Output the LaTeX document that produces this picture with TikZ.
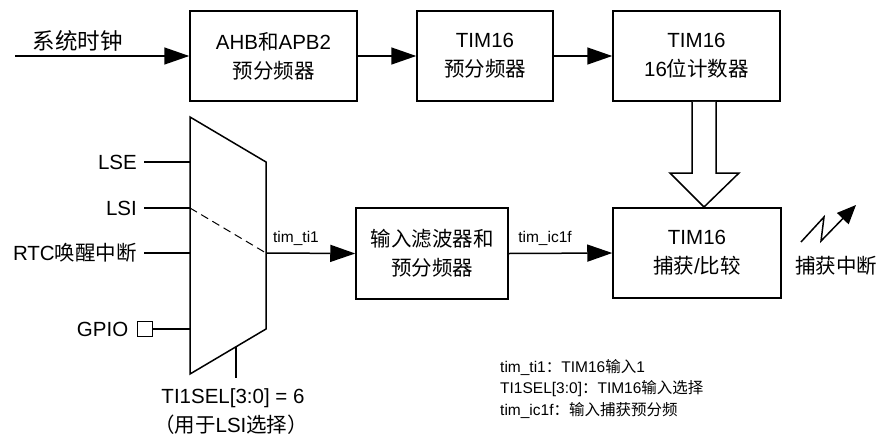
\documentclass[tikz,border=0pt]{standalone}
\usepackage{fontspec}
\setmainfont{Liberation Sans}
\newfontfamily\cjk{Noto Sans CJK SC}
\usetikzlibrary{arrows.meta}
\tikzset{
  ln/.style={line width=1.5pt},
  arr/.style={ln,-{Triangle[length=25pt,width=17pt]}},
  blk/.style={draw,line width=1.5pt,rectangle,inner sep=0pt,align=center,
    font=\fontsize{20.5}{29}\selectfont},
  big/.style={font=\fontsize{20.5}{29}\selectfont,inner sep=0pt},
  small/.style={font=\fontsize{15.5}{21.5}\selectfont,inner sep=0pt},
  pin/.style={big,inner xsep=7pt,anchor=east},
}
\begin{document}
\begin{tikzpicture}[x=1pt,y=-1pt]
\useasboundingbox (0,0) rectangle (881,437);
% top row
\node[blk,minimum width=167pt,minimum height=90pt] (ahb) at (273.5,56) {AHB{\cjk 和}APB2\\{\cjk 预分频器}};
\node[blk,minimum width=136pt,minimum height=90pt] (tpre) at (485,56) {TIM16\\{\cjk 预分频器}};
\node[blk,minimum width=167pt,minimum height=90pt] (cnt) at (696.5,56) {TIM16\\16{\cjk 位计数器}};
\coordinate (clkin) at (15,56);
\node[big,font=\fontsize{22.5}{29}\selectfont] (clklbl) at (77.5,41) {\cjk 系统时钟};
\draw[arr] (clkin) -- (ahb.west);
\draw[arr] (ahb.east) -- (tpre.west);
\draw[arr] (tpre.east) -- (cnt.west);
% middle row
\node[blk,minimum width=152pt,minimum height=91pt] (filt) at (432,253.5) {{\cjk 输入滤波器和}\\{\cjk 预分频器}};
\node[blk,minimum width=168pt,minimum height=90pt] (cap) at (697,253) {TIM16\\{\cjk 捕获}/{\cjk 比较}};
% hollow arrow
\draw[ln,fill=white] (cnt.south -| 692,0) -- (692,173) -- (670,173) -- (704,207)
  -- (739,173) -- (716,173) -- (cnt.south -| 716,0);
% mux
\coordinate (mtl) at (190,117);
\coordinate (mtr) at (266,162);
\coordinate (mbr) at (266,329);
\coordinate (mbl) at (190,374);
\draw[ln] (mtl) -- (mtr) -- (mbr) -- (mbl) -- cycle;
\coordinate (m1) at (190,162);
\coordinate (m2) at (190,208);
\coordinate (m3) at (190,253);
\coordinate (m4) at (190,329);
\coordinate (mout) at (266,253);
\node[pin] (lse) at (144,162) {LSE};
\node[pin] (lsi) at (144,208) {LSI};
\node[pin] (rtc) at (144,253) {RTC{\cjk 唤醒中断}};
\node[draw,line width=1.2pt,minimum size=15pt,inner sep=0pt] (sq) at (145,329) {};
\node[big,anchor=east,inner xsep=8.5pt] (gpio) at (sq.west) {GPIO};
\draw[ln] (lse.east) -- (m1);
\draw[ln] (lsi.east) -- (m2);
\draw[ln] (rtc.east) -- (m3);
\draw[ln] (sq.east) -- (m4);
\draw[line width=1pt,dash pattern=on 8pt off 5pt] (m2) -- (mout);
\draw[arr] (mout) -- (filt.west);
\node[small] (ti1) at (296,238) {tim\_ti1};
\draw[arr] (filt.east) -- (cap.west);
\node[small] (ic1f) at (545,238) {tim\_ic1f};
% select
\coordinate (sel) at (236,346.5);
\coordinate (selend) at (236,378);
\draw[ln] (sel) -- (selend);
\node[big] (sel1) at (233,398) {TI1SEL[3:0] = 6};
\node[big] (sel2) at (231,425) {{\cjk （用于}LSI{\cjk 选择）}};
% interrupt
\coordinate (z1) at (801,242);
\coordinate (z2) at (824,217);
\coordinate (z3) at (821,241);
\coordinate (z4) at (856,205);
\draw[ln,-{Triangle[length=19pt,width=16pt]}] (z1) -- (z2) -- (z3) -- (z4);
\node[big] (irq) at (836,266) {\cjk 捕获中断};
% legend
\node[small,anchor=west] (lg1) at (500,367) {tim\_ti1{\cjk ：}TIM16{\cjk 输入}1};
\node[small,anchor=west] (lg2) at (500,388.5) {TI1SEL[3:0]{\cjk ：}TIM16{\cjk 输入选择}};
\node[small,anchor=west] (lg3) at (500,410) {tim\_ic1f{\cjk ：输入捕获预分频}};
\end{tikzpicture}
\end{document}
